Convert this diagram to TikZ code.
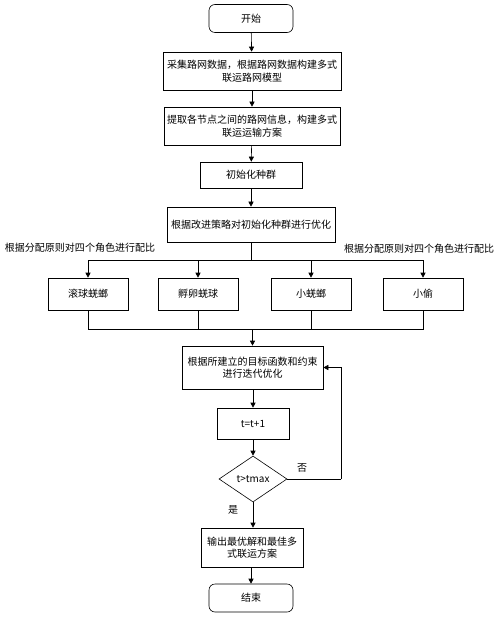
\documentclass[tikz,border=0pt]{standalone}
\usepackage{fontspec}
\setmainfont{Noto Sans CJK SC}
\usetikzlibrary{arrows.meta,shapes.geometric}
\begin{document}
\begin{tikzpicture}[x=1pt,y=-1pt,
  every node/.style={font=\fontsize{10}{12.5}\selectfont, inner sep=0pt, align=center},
  box/.style={draw, line width=0.6pt, minimum width=#1},
  rbox/.style={draw, line width=0.6pt, rounded corners=6pt, minimum width=84pt, minimum height=28pt},
  arr/.style={draw, line width=0.6pt, -{Triangle[length=5pt,width=5pt]}},
  ln/.style={draw, line width=0.6pt}]
\useasboundingbox (0,0) rectangle (500,617);
\node[rbox] (start) at (251,18.5) {开始};
\node[box=178pt, minimum height=38pt] (b2) at (252,71) {采集路网数据，根据路网数据构建多式\\联运路网模型};
\node[box=176pt, minimum height=38pt] (b3) at (252,126) {提取各节点之间的路网信息，构建多式\\联运运输方案};
\node[box=102pt, minimum height=26pt] (b4) at (251,175) {初始化种群};
\node[box=168pt, minimum height=35pt] (b5) at (251,224.5) {根据改进策略对初始化种群进行优化};
\node (lab1) at (80,248) {根据分配原则对四个角色进行配比};
\node (lab2) at (419,249) {根据分配原则对四个角色进行配比};
\node[box=80pt, minimum height=32pt] (r1) at (88,294) {滚球蜣螂};
\node[box=80pt, minimum height=32pt] (r2) at (198,294) {孵卵蜣球};
\node[box=80pt, minimum height=32pt] (r3) at (311,294) {小蜣螂};
\node[box=80pt, minimum height=32pt] (r4) at (423,294) {小偷};
\node[box=141pt, minimum height=43pt] (b6) at (252.5,367.5) {根据所建立的目标函数和约束\\进行迭代优化};
\node[box=72pt, minimum height=31pt] (bt) at (253,423.5) {t=t+1};
\node[draw, line width=0.6pt, diamond, aspect=1.48, minimum width=68pt, minimum height=46pt] (dm) at (253,479) {t>tmax};
\node (no) at (302,468) {否};
\node (yes) at (233,510) {是};
\node[box=102pt, minimum height=39pt] (b7) at (252,547.5) {输出最优解和最佳多\\式联运方案};
\node[rbox] (end) at (251,598) {结束};
\coordinate (split) at (251,260);
\coordinate (join) at (252.5,329);
\coordinate (loopc) at (341,479);
\draw[arr] (start) -- (b2);
\draw[arr] (b2) -- (b3);
\draw[arr] (b3) -- (b4);
\draw[arr] (b4) -- (b5);
\draw[ln] (b5) -- (split);
\draw[arr] (split) -| (r1);
\draw[arr] (split) -| (r2);
\draw[arr] (split) -| (r3);
\draw[arr] (split) -| (r4);
\draw[ln] (r1.south) |- (join);
\draw[ln] (r2.south) |- (join);
\draw[ln] (r3.south) |- (join);
\draw[ln] (r4.south) |- (join);
\draw[arr] (join) -- (b6);
\draw[arr] (b6.south -| bt) -- (bt);
\draw[arr] (bt) -- (dm);
\draw[ln] (dm.east) -- (loopc);
\draw[arr] (loopc) |- (b6.east);
\draw[arr] (dm.south) -- (b7.north -| dm.south);
\draw[arr] (b7.south -| end) -- (end);
\end{tikzpicture}
\end{document}
